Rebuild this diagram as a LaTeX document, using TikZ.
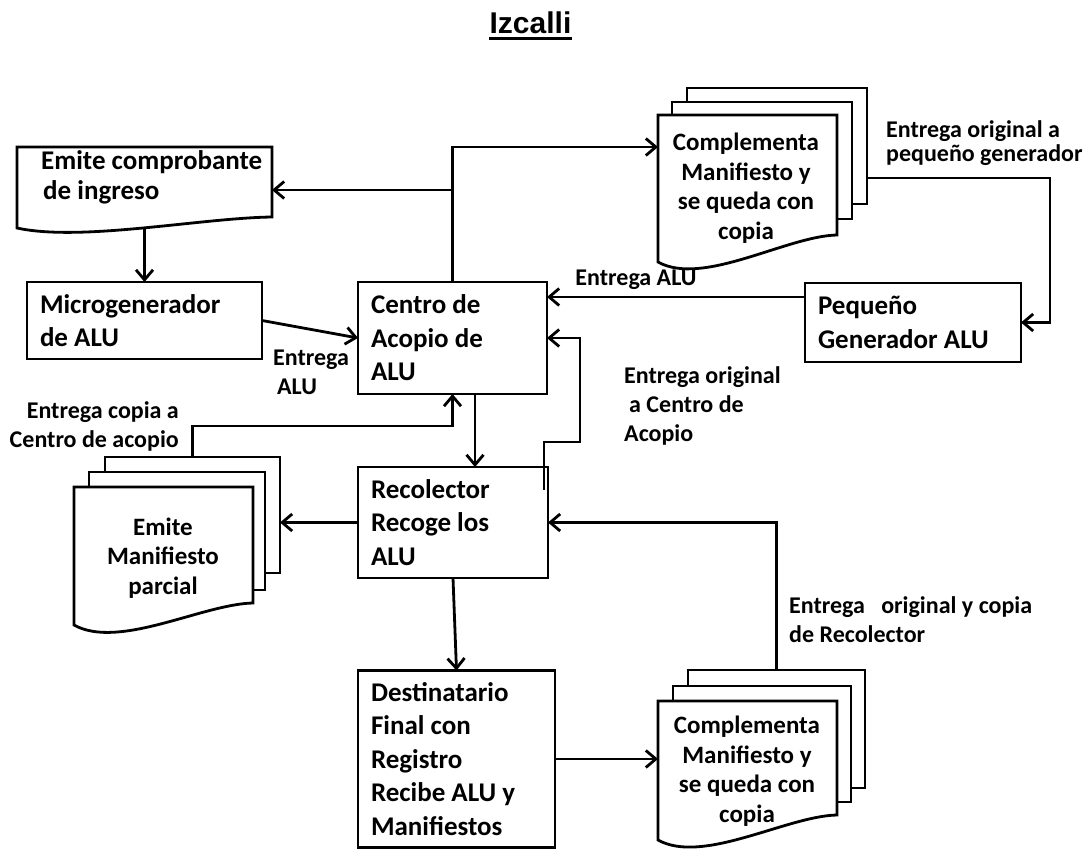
\documentclass[tikz,border=0pt]{standalone}
\usepackage{fontspec}
\setmainfont{Carlito}
\newfontfamily\arialfont{Liberation Sans}
\usetikzlibrary{arrows.meta,calc}
\newcommand\docpath[6]{\filldraw[lw,fill=white] (#1,#2) -- (#3,#2) -- (#3,#4) .. controls ({#1+0.72*(#3-#1)},{#4+1}) and ({#1+0.25*(#3-#1)},{#6}) .. (#1,#5) -- cycle;}
\begin{document}
\begin{tikzpicture}[x=1pt,y=-1pt,
  lw/.style={line width=2.8pt},
  arr/.style={lw,-{Straight Barb[length=10pt,width=17pt]}},
  box/.style={draw,lw,fill=white,font=\bfseries\fontsize{27}{33.5}\selectfont,align=flush left,inner xsep=13pt,inner ysep=0pt,outer sep=0pt},
  page/.style={draw,lw,fill=white,inner sep=0pt,outer sep=0pt},
  ghost/.style={inner sep=0pt,outer sep=0pt},
  doctext/.style={font=\bfseries\fontsize{25}{29.5}\selectfont,align=center,inner sep=0pt},
  lbl/.style={font=\bfseries\fontsize{24}{29}\selectfont,inner sep=0pt}]
\useasboundingbox[fill=white] (0,0) rectangle (1090,850);

% title
\node[inner sep=0pt,font=\arialfont\bfseries\fontsize{30}{36}\selectfont] (title) at (530.5,23) {Izcalli};
\draw[line width=3.5pt] ([yshift=-5pt]title.base west) -- ([yshift=-5pt]title.base east);

% Emite comprobante (document)
\node[ghost,minimum width=255pt,minimum height=86pt] (emite) at (144.5,190) {};
\docpath{17}{147}{272}{217}{228}{242}
\node[font=\bfseries\fontsize{27}{30}\selectfont,align=flush left,anchor=west,inner sep=0pt] (emitet) at (41,177) {Emite comprobante\\\hspace*{2pt}de ingreso};

% boxes
\node[box,text width=209pt,minimum height=77pt] (micro) at (144.5,320.5) {Microgenerador\\de ALU};
\node[box,text width=163pt,minimum height=112pt] (centro) at (452.5,338) {Centro de\\Acopio de\\ALU};
\node[box,text width=190pt,minimum height=79pt] (pequeno) at (913,322.5) {Pequeño\\Generador ALU};
\node[box,text width=164pt,minimum height=111pt] (recol) at (453,522.5) {Recolector\\Recoge los\\ALU};
\node[box,text width=171pt,minimum height=177pt] (dest) at (456.5,759) {Destinatario\\Final con\\Registro\\Recibe ALU y\\Manifiestos};

% top stack
\node[page,minimum width=180pt,minimum height=116pt] (tst3) at (777,146) {};
\node[page,minimum width=180pt,minimum height=117pt] (tst2) at (762,160.5) {};
\node[ghost,minimum width=179pt,minimum height=120pt] (tst1) at (747.5,175) {};
\docpath{658}{115}{837}{235}{262}{287}
\node[doctext] (tst1t) at (746,188) {Complementa\\Manifiesto y\\se queda con\\copia};

% bottom stack
\node[page,minimum width=177pt,minimum height=118pt] (bst3) at (776.5,729) {};
\node[page,minimum width=178pt,minimum height=116pt] (bst2) at (762,744) {};
\node[ghost,minimum width=179pt,minimum height=114pt] (bst1) at (747.5,758) {};
\docpath{658}{701}{837}{815}{840}{865}
\node[doctext] (bst1t) at (747,771) {Complementa\\Manifiesto y\\se queda con\\copia};

% left stack
\node[page,minimum width=175pt,minimum height=116pt] (lst3) at (192.5,515) {};
\node[page,minimum width=176pt,minimum height=118pt] (lst2) at (177,531) {};
\node[ghost,minimum width=179pt,minimum height=116pt] (lst1) at (163.5,545) {};
\docpath{74}{487}{253}{603}{625}{650}
\node[doctext] (lst1t) at (163,558) {Emite\\Manifiesto\\parcial};

% connectors
\draw[arr] (centro.north) |- ([yshift=28pt]tst1.west);
\draw[arr] (emite.east -| centro.north) -- (emite.east);
\draw[arr] ([yshift=5pt]emite.south) -- (micro.north);
\draw[arr] (micro.east) -- (centro.west);
\draw[arr] ([yshift=25.5pt]pequeno.west) -- ([yshift=25.5pt]pequeno.west -| centro.east);
\draw[arr] ([yshift=-32pt]tst3.east) -| ([xshift=29pt]pequeno.east) -- (pequeno.east);
\draw[arr] ([xshift=22.5pt]centro.south) -- ([xshift=22pt]recol.north);
\draw[arr] (lst3.north) |- ([yshift=-32pt]centro.south) -- (centro.south);
\draw[arr] (recol.west) -- (recol.west -| lst3.east);
\draw[arr] ([xshift=-4pt,yshift=-23pt]recol.north east) -- ++(0,-48) -- ++(36,0) |- (centro.east);
\draw[arr] (bst3.north) |- (recol.east);
\draw[arr] (recol.south) -- (dest.north);
\draw[arr] (dest.east) -- (dest.east -| bst1.west);

% labels
\node[lbl,font=\bfseries\fontsize{24}{23.5}\selectfont,align=flush left,anchor=west] (lblA) at (886,143) {Entrega original a\\pequeño generador};
\node[lbl] (lblB) at (636,280) {Entrega ALU};
\node[lbl,align=flush left,anchor=west] (lblC) at (273,372) {Entrega\\\hspace*{4pt}ALU};
\node[lbl,align=flush right,anchor=east] (lblD) at (179,426) {Entrega copia a\\Centro de acopio};
\node[lbl,align=flush left,anchor=west] (lblE) at (624,406) {Entrega original\\\hspace*{5pt}a Centro de\\Acopio};
\node[lbl,align=flush left,anchor=west] (lblF) at (789,620) {Entrega\hspace{0.45em} original y copia\\de Recolector};
\end{tikzpicture}
\end{document}
